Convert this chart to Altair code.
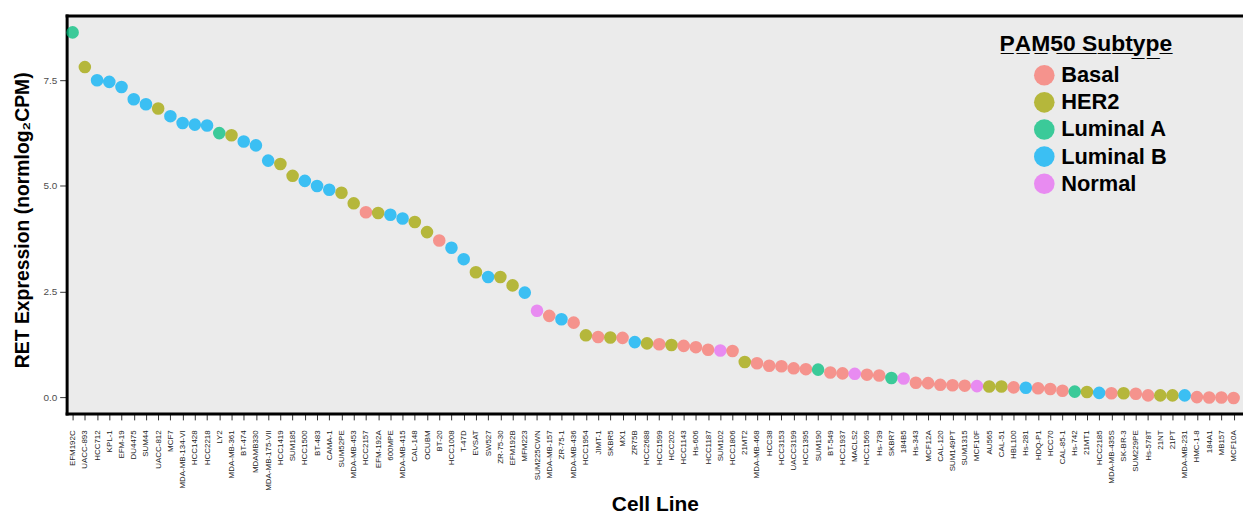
import altair as alt
import pandas as pd

cell_lines = [
    "EFM192C", "UACC-893", "HCC712", "KPL-1", "EFM-19", "DU4475", "SUM44", "UACC-812",
    "MCF7", "MDA-MB-134-VI", "HCC1428", "HCC2218", "LY2", "MDA-MB-361", "BT-474", "MDAMB330",
    "MDA-MB-175-VII", "HCC1419", "SUM185", "HCC1500", "BT-483", "CAMA-1", "SUM52PE", "MDA-MB-453",
    "HCC2157", "EFM-192A", "600MPE", "MDA-MB-415", "CAL-148", "OCUBM", "BT-20", "HCC1008",
    "T-47D", "EVSAT", "SW527", "ZR-75-30", "EFM192B", "MFM223", "SUM225CWN", "MDA-MB-157",
    "ZR-75-1", "MDA-MB-436", "HCC1954", "JIMT-1", "SKBR5", "MX1", "ZR75B", "HCC2688",
    "HCC1599", "HCC202", "HCC1143", "Hs-606", "HCC1187", "SUM102", "HCC1806", "21MT2",
    "MDA-MB-468", "HCC38", "HCC3153", "UACC3199", "HCC1395", "SUM190", "BT-549", "HCC1937",
    "MACLS2", "HCC1569", "Hs-739", "SKBR7", "184B5", "Hs-343", "MCF12A", "CAL-120",
    "SUM149PT", "SUM1315", "MCF10F", "AU565", "CAL-51", "HBL100", "Hs-281", "HDQ-P1",
    "HCC70", "CAL-85-1", "Hs-742", "21MT1", "HCC2185", "MDA-MB-435S", "SK-BR-3", "SUM229PE",
    "Hs-578T", "21NT", "21PT", "MDA-MB-231", "HMC-1-8", "184A1", "MB157", "MCF10A",
]

ret_expression = [
    8.63, 7.81, 7.50, 7.46, 7.34, 7.05, 6.93, 6.83,
    6.65, 6.49, 6.45, 6.43, 6.25, 6.20, 6.05, 5.96,
    5.60, 5.52, 5.24, 5.12, 5.00, 4.91, 4.84, 4.59,
    4.38, 4.36, 4.32, 4.23, 4.15, 3.91, 3.71, 3.54,
    3.27, 2.96, 2.85, 2.85, 2.65, 2.48, 2.05, 1.93,
    1.85, 1.77, 1.47, 1.43, 1.42, 1.41, 1.31, 1.28,
    1.26, 1.24, 1.22, 1.19, 1.13, 1.11, 1.10, 0.84,
    0.81, 0.75, 0.74, 0.69, 0.67, 0.66, 0.59, 0.57,
    0.56, 0.54, 0.52, 0.46, 0.45, 0.35, 0.34, 0.30,
    0.29, 0.28, 0.27, 0.26, 0.26, 0.24, 0.23, 0.22,
    0.20, 0.16, 0.14, 0.13, 0.11, 0.10, 0.10, 0.09,
    0.05, 0.05, 0.05, 0.05, 0.01, 0.00, 0.00, -0.01,
]

subtypes = [
    "Luminal A", "HER2", "Luminal B", "Luminal B", "Luminal B", "Luminal B", "Luminal B", "HER2",
    "Luminal B", "Luminal B", "Luminal B", "Luminal B", "Luminal A", "HER2", "Luminal B", "Luminal B",
    "Luminal B", "HER2", "HER2", "Luminal B", "Luminal B", "Luminal B", "HER2", "HER2",
    "Basal", "HER2", "Luminal B", "Luminal B", "HER2", "HER2", "Basal", "Luminal B",
    "Luminal B", "HER2", "Luminal B", "HER2", "HER2", "Luminal B", "Normal", "Basal",
    "Luminal B", "Basal", "HER2", "Basal", "HER2", "Basal", "Luminal B", "HER2",
    "Basal", "HER2", "Basal", "Basal", "Basal", "Normal", "Basal", "HER2",
    "Basal", "Basal", "Basal", "Basal", "Basal", "Luminal A", "Basal", "Basal",
    "Normal", "Basal", "Basal", "Luminal A", "Normal", "Basal", "Basal", "Basal",
    "Basal", "Basal", "Normal", "HER2", "HER2", "Basal", "Luminal B", "Basal",
    "Basal", "Basal", "Luminal A", "HER2", "Luminal B", "Basal", "HER2", "Basal",
    "Basal", "HER2", "HER2", "Luminal B", "Basal", "Basal", "Basal", "Basal",
]

subtype_order = ["Basal", "HER2", "Luminal A", "Luminal B", "Normal"]
subtype_colors = ["#F8766D", "#A3A500", "#00BF7D", "#00B0F6", "#E76BF3"]
y_ticks = [0.0, 2.5, 5.0, 7.5]

df = pd.DataFrame({"cell": cell_lines, "ret": ret_expression, "subtype": subtypes})

FONT = "Liberation Sans"
legend_title = "".join(ch + "\u0332" for ch in "PAM50 Subtype")

x_scale = alt.Scale(type="point", padding=0.63, align=0.39)
y_scale = alt.Scale(domain=[-0.376, 9.027], nice=False, zero=False)

y_axis = alt.Axis(
    values=y_ticks, format=".1f", grid=False,
    title="RET Expression (normlog\u2082CPM)",
    titleFont=FONT, titleFontSize=19.5, titleFontWeight="bold", titleColor="black",
    titleAngle=270, titleX=-38, titleY=205.5, titleAlign="center", titleBaseline="alphabetic",
    labelFont=FONT, labelFontSize=10, labelColor="#4D4D4D", labelPadding=3,
    tickSize=7, tickColor="#333333", tickWidth=1,
    domain=True, domainColor="black", domainWidth=3, domainCap="square",
)

x_axis = alt.Axis(
    title="Cell Line", grid=False,
    titleFont=FONT, titleFontSize=21, titleFontWeight="bold", titleColor="black",
    titleY=97.5, titleBaseline="alphabetic",
    labelAngle=270, labelAlign="right", labelBaseline="middle",
    labelFont=FONT, labelFontSize=8, labelColor="#222222", labelPadding=10,
    labelOverlap=False, labelLimit=200,
    tickSize=6.5, tickColor="#333333", tickWidth=1,
    domain=True, domainColor="black", domainWidth=3, domainCap="square",
)

points = alt.Chart(df).mark_circle(size=160, opacity=0.75).encode(
    x=alt.X("cell:N", sort=cell_lines, scale=x_scale, axis=x_axis),
    y=alt.Y("ret:Q", scale=y_scale, axis=y_axis),
    color=alt.Color(
        "subtype:N",
        scale=alt.Scale(domain=subtype_order, range=subtype_colors),
        legend=alt.Legend(
            title=legend_title, orient="none", legendX=939, legendY=18,
            titleFont=FONT, titleFontSize=23, titleFontWeight="bold", titleColor="black",
            titlePadding=8, titleAnchor="start",
            labelFont=FONT, labelFontSize=22, labelFontWeight="bold", labelColor="black",
            labelOffset=6, symbolType="circle", symbolSize=430, symbolOpacity=0.75,
            symbolStrokeWidth=0, symbolOffset=34, rowPadding=5.3, padding=0,
        ),
    ),
)

top_frame = alt.Chart(df).mark_circle(opacity=0).encode(
    x=alt.X("cell:N", sort=cell_lines, scale=x_scale,
            axis=alt.Axis(orient="top", labels=False, ticks=False, title=None, grid=False,
                          domain=True, domainColor="black", domainWidth=3, domainCap="square")),
    y=alt.Y("ret:Q", scale=y_scale, axis=y_axis),
)

chart = alt.layer(points, top_frame).resolve_axis(x="independent").properties(
    width=1184, height=400.4,
    autosize=alt.AutoSizeParams(type="none"),
    padding={"left": 59, "top": 6, "right": 0, "bottom": 102.6},
).configure_view(fill="#EBEBEB", stroke="transparent")

chart.save("out.html", embed_options={"renderer": "svg", "actions": False})
